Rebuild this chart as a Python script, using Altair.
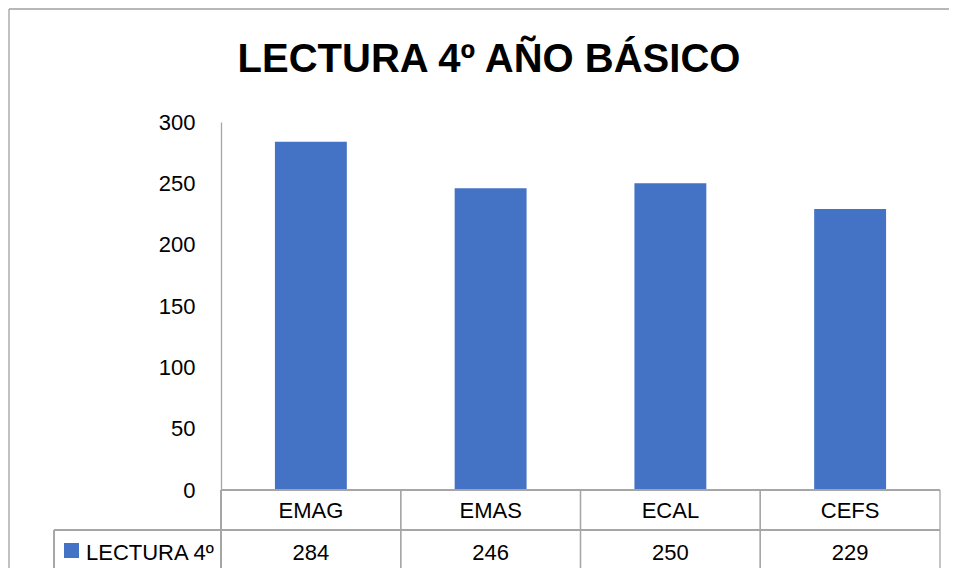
import altair as alt
import pandas as pd

categories = ["EMAG", "EMAS", "ECAL", "CEFS"]
values = [284, 246, 250, 229]
series_name = "LECTURA 4º"
title_text = "LECTURA 4º AÑO BÁSICO"
y_ticks = [0, 50, 100, 150, 200, 250, 300]

df = pd.DataFrame({"cat": categories, "val": values})

BLUE = "#4472C4"
GRID = "#a6a6a6"
FONT = "Liberation Sans"

W, H = 719, 368

x = alt.X("cat:N", sort=categories,
          scale=alt.Scale(paddingInner=0, paddingOuter=0), axis=None)

base = alt.Chart(df)

bars = base.mark_bar(color=BLUE, width=alt.RelativeBandSize(0.4)).encode(
    x=x,
    y=alt.Y("val:Q", scale=alt.Scale(domain=[0, 300], nice=False),
            axis=alt.Axis(values=y_ticks, title=None, grid=False, ticks=False,
                          labelPadding=26, labelFontSize=22, labelFont=FONT,
                          labelColor="#000000", domainColor=GRID,
                          domainWidth=1.3)),
)

# table: category labels and values
cat_text = base.mark_text(font=FONT, fontSize=22, color="#000000",
                          baseline="middle").encode(
    x=x, y=alt.value(388.5), text="cat:N")
val_text = base.mark_text(font=FONT, fontSize=22, color="#000000",
                          baseline="middle").encode(
    x=x, y=alt.value(430.5), text="val:Q")

# table grid lines
vlines_left = base.mark_rule(color=GRID, strokeWidth=1.3).encode(
    x=alt.X("cat:N", sort=categories, bandPosition=0,
            scale=alt.Scale(paddingInner=0, paddingOuter=0), axis=None),
    y=alt.value(368), y2=alt.value(449))
vlines_right = base.mark_rule(color=GRID, strokeWidth=1.3).encode(
    x=alt.X("cat:N", sort=categories, bandPosition=1,
            scale=alt.Scale(paddingInner=0, paddingOuter=0), axis=None),
    y=alt.value(368), y2=alt.value(449))
axis_ext = base.mark_rule(color=GRID, strokeWidth=1.3).encode(
    x=alt.value(0), y=alt.value(368), y2=alt.value(449))
hl0 = base.mark_rule(color=GRID, strokeWidth=1.3).encode(
    x=alt.value(0), x2=alt.value(W), y=alt.value(368))
hl1 = base.mark_rule(color=GRID, strokeWidth=1.3).encode(
    x=alt.value(-167), x2=alt.value(W), y=alt.value(408))
hl2 = base.mark_rule(color=GRID, strokeWidth=1.3).encode(
    x=alt.value(-167), x2=alt.value(W), y=alt.value(449))
vleg = base.mark_rule(color=GRID, strokeWidth=1.3).encode(
    x=alt.value(-167), y=alt.value(408), y2=alt.value(449))

leg_df = pd.DataFrame({"name": [series_name]})
leg_sq = alt.Chart(leg_df).mark_square(color=BLUE, size=225, opacity=1).encode(
    x=alt.value(-149.5), y=alt.value(428.5))
leg_txt = alt.Chart(leg_df).mark_text(font=FONT, fontSize=22, color="#000000",
                                      align="left", baseline="middle").encode(
    x=alt.value(-135), y=alt.value(430.5), text="name:N")

title_df = pd.DataFrame({"t": [title_text]})
title = alt.Chart(title_df).mark_text(
    font=FONT, fontSize=40, fontWeight="bold",
    color="#000000", align="center", baseline="alphabetic").encode(
    x=alt.value(268), y=alt.value(-50), text="t:N")

# chart border (top and left)
border_top = alt.Chart(title_df).mark_rule(color="#a0a0a0", strokeWidth=1.3).encode(
    x=alt.value(-212), x2=alt.value(740), y=alt.value(-113))
border_left = alt.Chart(title_df).mark_rule(color="#a0a0a0", strokeWidth=1.3).encode(
    x=alt.value(-212), y=alt.value(-113), y2=alt.value(460))

chart = alt.layer(
    border_top, border_left, title,
    bars, hl0, hl1, hl2, vleg, axis_ext, vlines_left, vlines_right,
    cat_text, val_text, leg_sq, leg_txt,
).properties(
    width=W, height=H,
    autosize=alt.AutoSizeParams(type="none"),
    padding={"left": 213, "top": 114, "right": 9, "bottom": 78},
).configure(background="#ffffff").configure_view(strokeWidth=0)

chart.save("out.html", embed_options={"renderer": "svg", "actions": False})
